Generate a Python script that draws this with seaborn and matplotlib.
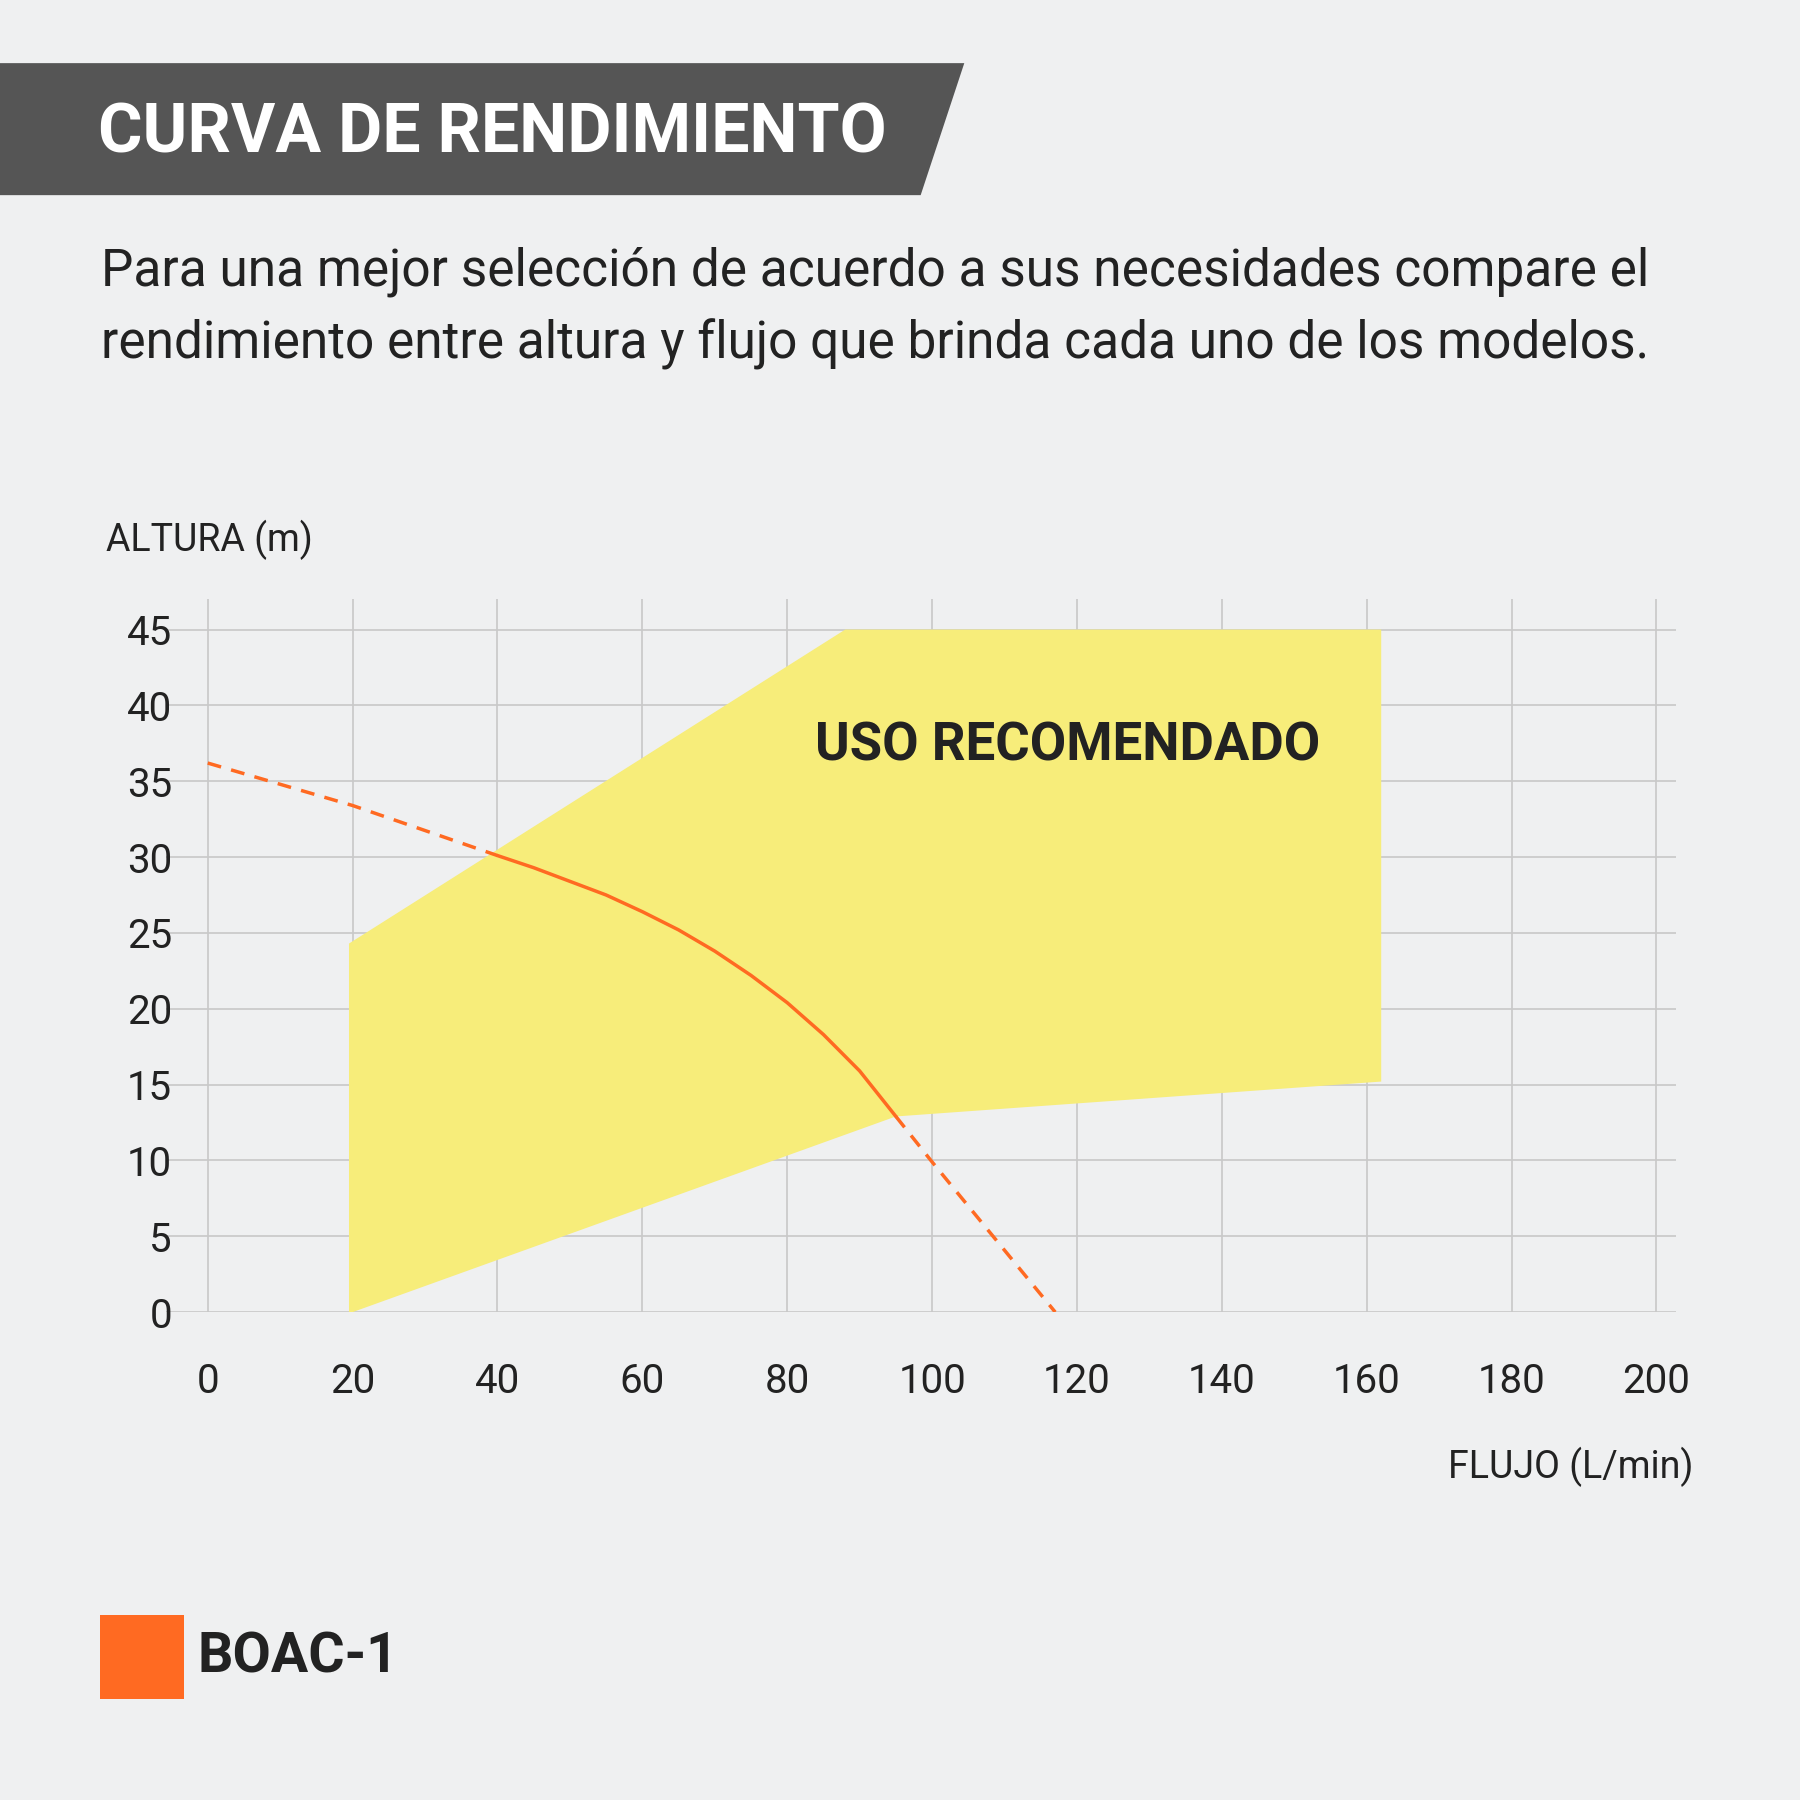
import matplotlib
matplotlib.use("Agg")
import matplotlib.pyplot as plt
import seaborn as sns
from matplotlib.patches import Polygon, Rectangle

sns.set_theme(style="white")
plt.rcParams['font.family'] = ['Roboto', 'DejaVu Sans']

zone_x = [19.5, 19.5, 88, 162, 162, 95, 20]
zone_y = [0, 24.3, 45, 45, 15.2, 12.9, 0]

dash1_x = [0, 20, 40]
dash1_y = [36.2, 33.4, 30.1]
solid_x = [40, 45, 50, 55, 60, 65, 70, 75, 80, 85, 90, 95]
solid_y = [30.1, 29.3, 28.4, 27.5, 26.4, 25.2, 23.8, 22.2, 20.4, 18.3, 15.9, 12.9]
dash2_x = [95, 100, 117]
dash2_y = [12.9, 9.9, 0]

xticks = list(range(0, 201, 20))
yticks = list(range(0, 46, 5))

BG = "#eff0f1"
ORANGE = "#ff6a22"
YELLOW = "#f7ed7a"

fig = plt.figure(figsize=(18, 18), dpi=100, facecolor=BG)
ax = fig.add_axes([145/1568, 1 - 1143/1568, (1460-145)/1568, (1143-522)/1568])
ax.set_facecolor(BG)
ax.set_xlim(-5.7, 202.7)
ax.set_ylim(0, 47)
for s in ax.spines.values():
    s.set_visible(False)
ax.set_xticks(xticks)
ax.set_yticks(yticks)
ax.grid(True, color="#c8c8c8", linewidth=1.2)
ax.set_axisbelow(True)
ax.tick_params(axis='both', length=0, labelsize=29, colors="#222222")
ax.tick_params(axis='x', pad=36)
ax.tick_params(axis='y', pad=-4)

ax.add_patch(Polygon(list(zip(zone_x, zone_y)), closed=True, facecolor=YELLOW, edgecolor='none', zorder=2))
sns.lineplot(x=dash1_x, y=dash1_y, ax=ax, color=ORANGE, linestyle=(0, (4, 3)), linewidth=2.5, zorder=3)
sns.lineplot(x=solid_x, y=solid_y, ax=ax, color=ORANGE, linewidth=2.5, zorder=3)
sns.lineplot(x=dash2_x, y=dash2_y, ax=ax, color=ORANGE, linestyle=(0, (4, 3)), linewidth=2.5, zorder=3)
ax.text(118.7, 37.3, "USO RECOMENDADO", fontsize=38, fontweight='bold', color="#222222", ha='center', va='center', zorder=4)

fig.patches.append(Polygon([(0, 1 - 55/1568), (840/1568, 1 - 55/1568), (802/1568, 1 - 170/1568), (0, 1 - 170/1568)],
                           closed=True, transform=fig.transFigure, facecolor="#555555", edgecolor='none'))
fig.text(85/1568, 1 - 117/1568, "CURVA DE RENDIMIENTO", fontsize=49, fontweight='bold', color='white', va='center')
fig.text(88/1568, 1 - 237/1568, "Para una mejor selección de acuerdo a sus necesidades compare el",
         fontsize=37, color="#222222", va='center')
fig.text(88/1568, 1 - 300/1568, "rendimiento entre altura y flujo que brinda cada uno de los modelos.",
         fontsize=37, color="#222222", va='center')
fig.text(92/1568, 1 - 470/1568, "ALTURA (m)", fontsize=27, color="#222222", va='center')
fig.text(1475/1568, 1 - 1278/1568, "FLUJO (L/min)", fontsize=27, color="#222222", va='center', ha='right')

fig.patches.append(Rectangle((87/1568, 1 - 1480/1568), 73/1568, 73/1568, transform=fig.transFigure,
                             facecolor=ORANGE, edgecolor='none'))
fig.text(172/1568, 1 - 1444/1568, "BOAC-1", fontsize=40, fontweight='bold', color="#222222", va='center')

fig.savefig("out.png", dpi=100, facecolor=BG)
